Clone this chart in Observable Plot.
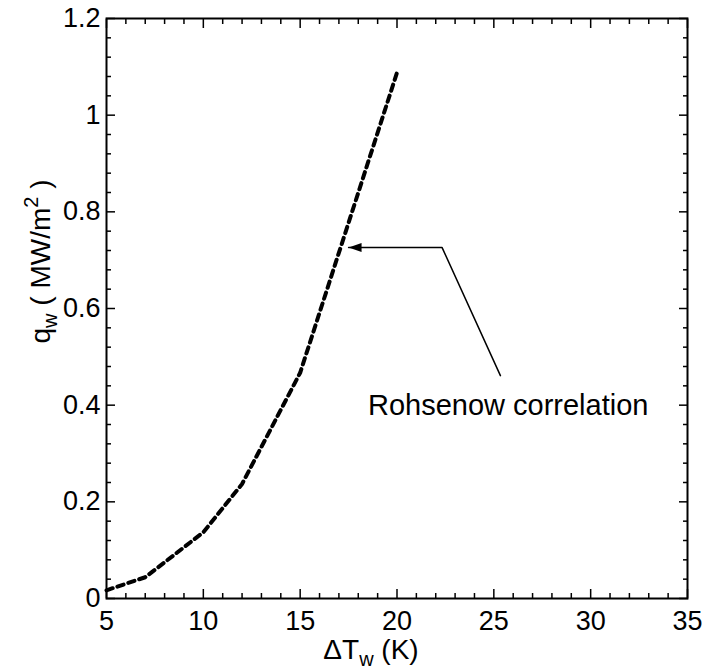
<!DOCTYPE html>
<html>
<head>
<meta charset="utf-8">
<script src="https://cdn.jsdelivr.net/npm/d3@7"></script>
<script src="https://cdn.jsdelivr.net/npm/@observablehq/plot@0.6"></script>
<style>
  body { margin: 0; background: #fff; }
  svg { display: block; }
</style>
</head>
<body>
<div id="chart"></div>
<script>
// ---- data ----
const deltaT = [5, 7, 10, 12, 15, 20];
const qw = [0.017, 0.044, 0.137, 0.237, 0.467, 1.088];

const xMajorTicks = [5, 10, 15, 20, 25, 30, 35];
const xMinorTicks = [6, 7, 8, 9, 11, 12, 13, 14, 16, 17, 18, 19, 21, 22, 23, 24, 26, 27, 28, 29, 31, 32, 33, 34];
const yMajorTicks = [0, 0.2, 0.4, 0.6, 0.8, 1, 1.2];
const yMinorTicks = [0.04, 0.08, 0.12, 0.16, 0.24, 0.28, 0.32, 0.36, 0.44, 0.48, 0.52, 0.56,
                     0.64, 0.68, 0.72, 0.76, 0.84, 0.88, 0.92, 0.96, 1.04, 1.08, 1.12, 1.16];

const annotationLabel = "Rohsenow correlation";
const annotationPos = [{x: 18.5, y: 0.379}];
const leaderX = [17.5, 22.33, 25.34];
const leaderY = [0.726, 0.726, 0.461];

const xTitle = "ΔTw (K)";
const yTitle = "qw ( MW/m2 )";

// ---- build ----
const curve = deltaT.map((x, i) => ({x, y: qw[i]}));
const leader = leaderX.map((x, i) => ({x, y: leaderY[i]}));
const arrowHead = [leader[0]];

const FONT = "'Liberation Sans', Arial, Helvetica, sans-serif";

const headSymbol = {
  draw(context) {
    context.moveTo(0, 0);
    context.lineTo(13, -4.5);
    context.lineTo(13, 4.5);
    context.closePath();
  }
};

const tickMarks = (axisFn, anchor, ticks, size) =>
  axisFn({anchor, ticks, tickSize: -size, text: null, label: null, strokeWidth: 1.5});

const svg = Plot.plot({
  width: 705,
  height: 668,
  marginLeft: 106,
  marginRight: 18,
  marginTop: 18,
  marginBottom: 70,
  style: {fontFamily: FONT, background: "#fff", color: "#000"},
  x: {domain: [5, 35]},
  y: {domain: [0, 1.2]},
  marks: [
    // inward ticks, all four sides
    tickMarks(Plot.axisX, "bottom", xMajorTicks, 9),
    tickMarks(Plot.axisX, "bottom", xMinorTicks, 5),
    tickMarks(Plot.axisX, "top", xMajorTicks, 9),
    tickMarks(Plot.axisX, "top", xMinorTicks, 5),
    tickMarks(Plot.axisY, "left", yMajorTicks, 9),
    tickMarks(Plot.axisY, "left", yMinorTicks, 5),
    tickMarks(Plot.axisY, "right", yMajorTicks, 9),
    tickMarks(Plot.axisY, "right", yMinorTicks, 5),
    // tick labels
    Plot.axisX({anchor: "bottom", ticks: xMajorTicks, tickSize: 0, tickPadding: 12,
                label: null, fontSize: 27, tickFormat: d => String(d)}),
    Plot.axisY({anchor: "left", ticks: yMajorTicks, tickSize: 0, tickPadding: 6,
                label: null, fontSize: 27, tickFormat: d => String(+d.toFixed(2))}),
    Plot.frame({strokeWidth: 2}),
    // data curve
    Plot.line(curve, {x: "x", y: "y", stroke: "#000", strokeWidth: 4, strokeDasharray: "6.5,5"}),
    // annotation leader and arrowhead
    Plot.line(leader, {x: "x", y: "y", stroke: "#000", strokeWidth: 1.5}),
    Plot.dot(arrowHead, {x: "x", y: "y", symbol: headSymbol, fill: "#000", stroke: "none", r: 5}),
    Plot.text(annotationPos, {x: "x", y: "y", text: () => annotationLabel, textAnchor: "start",
                              lineAnchor: "bottom", fontSize: 29, fill: "#000"}),
    // axis titles
    Plot.text([0], {frameAnchor: "bottom", dx: -26, dy: 60, text: () => xTitle,
                    textAnchor: "middle", lineAnchor: "bottom", fontSize: 28, fill: "#000"}),
    Plot.text([0], {frameAnchor: "left", dx: -57, dy: -47, rotate: -90, text: () => yTitle,
                    textAnchor: "middle", lineAnchor: "bottom", fontSize: 28, fill: "#000"})
  ]
});

d3.select(svg).selectAll("text").each(function () {
  const t = this.textContent;
  if (t === xTitle) {
    this.innerHTML = 'ΔT<tspan font-size="20" dy="7">w</tspan><tspan dy="-7"> (K)</tspan>';
  } else if (t === yTitle) {
    this.innerHTML = 'q<tspan font-size="20" dy="7">w</tspan><tspan dy="-7"> ( MW/m</tspan><tspan font-size="20" dy="-12">2</tspan><tspan dy="12"> )</tspan>';
  }
});

document.getElementById("chart").appendChild(svg);
</script>
</body>
</html>
